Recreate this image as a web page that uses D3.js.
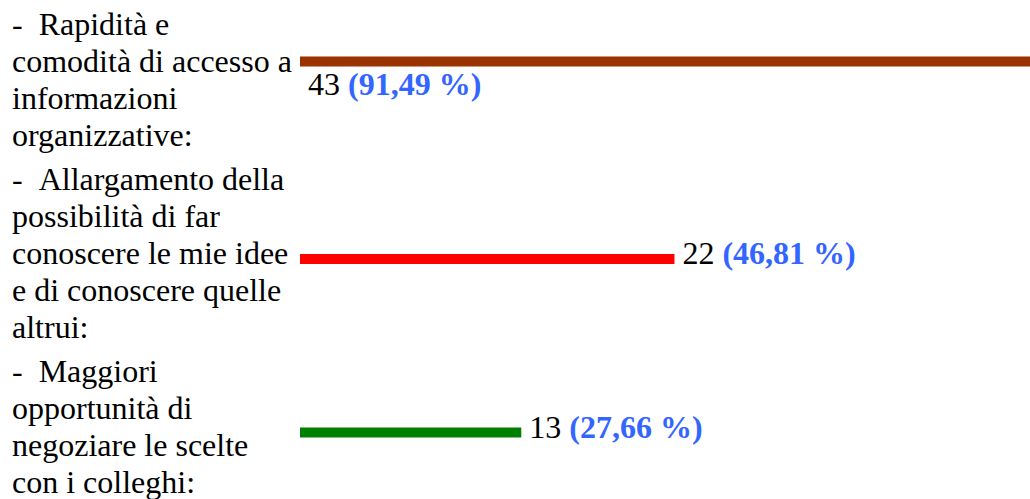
<!DOCTYPE html>
<html>
<head>
<meta charset="utf-8">
<script src="https://cdn.jsdelivr.net/npm/d3@7"></script>
<style>
  html, body { margin: 0; padding: 0; background: #fff; }
  svg { display: block; }
  text { font-family: "Liberation Serif", "Times New Roman", serif; font-size: 32px; fill: #000; }
  .pct { font-weight: bold; fill: #3366ff; }
</style>
</head>
<body>
<svg id="chart"></svg>
<script>
// Survey answers, each shown as a wrapped label next to a horizontal bar
const categories = [
  ["-\u00a0\u00a0Rapidità e", "comodità di accesso a", "informazioni", "organizzative:"],
  ["-\u00a0\u00a0Allargamento della", "possibilità di far", "conoscere le mie idee", "e di conoscere quelle", "altrui:"],
  ["-\u00a0\u00a0Maggiori", "opportunità di", "negoziare le scelte", "con i colleghi:"]
];
const counts = [43, 22, 13];
const percents = ["91,49 %", "46,81 %", "27,66 %"];
const colors = ["#993300", "#ff0000", "#008000"];
const totalRespondents = 47;

const width = 1030, height = 499;
const lineH = 37, rowGap = 7, firstBaseline = 35, labelX = 12;
const barLeft = 300, barH = 10;

const svg = d3.select("#chart").attr("width", width).attr("height", height);

const x = d3.scaleLinear().domain([0, totalRespondents]).range([barLeft, barLeft + 800]);

// First-line baseline of every row, from the number of label lines above it
const rowBaselines = [];
categories.reduce((base, lines) => {
  rowBaselines.push(base);
  return base + lines.length * lineH + rowGap;
}, firstBaseline);

const rows = svg.selectAll("g.row")
  .data(counts.map((c, i) => ({ count: c, pct: percents[i], lines: categories[i], color: colors[i], base: rowBaselines[i] })))
  .join("g").attr("class", "row");

// Category labels
rows.append("text")
  .attr("x", labelX)
  .selectAll("tspan")
  .data(d => d.lines.map((l, j) => ({ l, y: d.base + j * lineH })))
  .join("tspan")
  .attr("x", labelX)
  .attr("y", t => t.y)
  .text(t => t.l);

rows.each(function (d) {
  const g = d3.select(this);
  const midBaseline = d.base + (d.lines.length - 1) / 2 * lineH;
  const x1 = x(d.count);

  const label = g.append("text");
  label.append("tspan").text(d.count + " ");
  label.append("tspan").attr("class", "pct").text("(" + d.pct + ")");
  const labelW = label.node().getComputedTextLength();

  let barTop, labelBaseline, labelStart;
  if (x1 + 8 + labelW > width) {
    // bar fills its own line; the value wraps underneath it
    const center = midBaseline - 10.5;
    barTop = center - (barH + lineH) / 2;
    labelBaseline = barTop + barH + 28.5;
    labelStart = barLeft + 8;
  } else {
    barTop = midBaseline - barH;
    labelBaseline = midBaseline;
    labelStart = x1 + 8;
  }

  g.insert("rect", "text")
    .attr("x", x(0))
    .attr("y", barTop)
    .attr("width", x1 - x(0))
    .attr("height", barH)
    .attr("fill", d.color);

  label.attr("x", labelStart).attr("y", labelBaseline);
});
</script>
</body>
</html>
